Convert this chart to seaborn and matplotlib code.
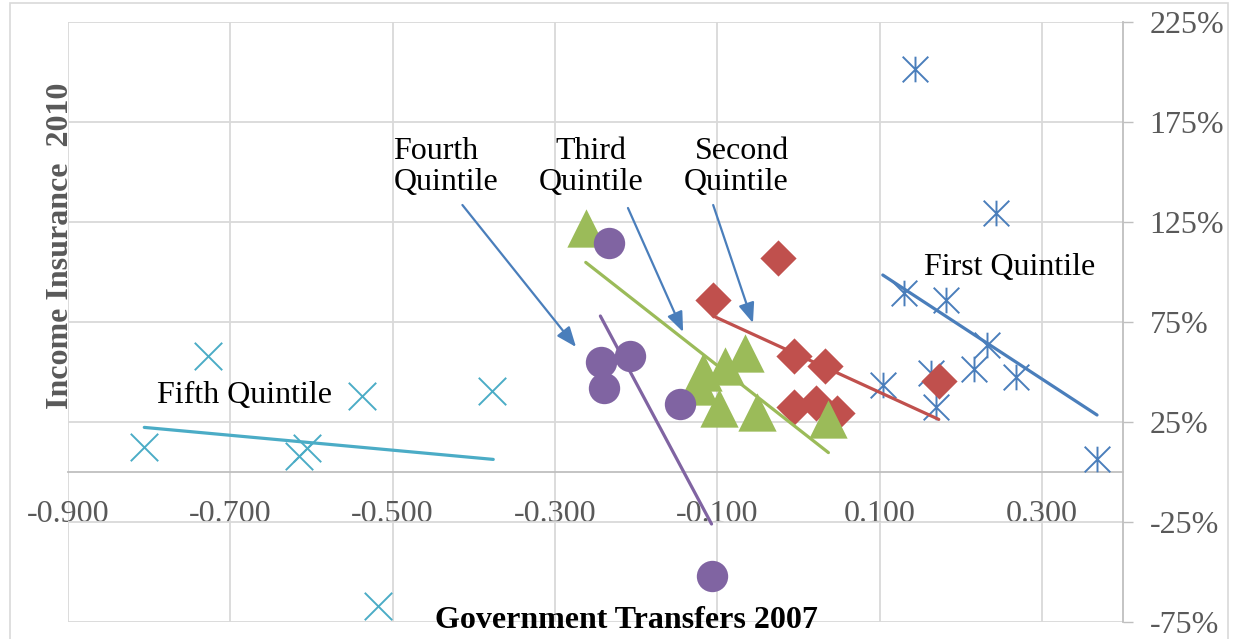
import matplotlib
matplotlib.use("Agg")
import matplotlib.pyplot as plt
import seaborn as sns
from matplotlib.path import Path
from matplotlib.patches import Rectangle
from matplotlib.ticker import FixedLocator, FuncFormatter

# x = government transfers 2007, y = income insurance 2010 (%)
first_x = [0.144, 0.244, 0.130, 0.182, 0.232, 0.217, 0.268, 0.104, 0.164, 0.170, 0.368]
first_y = [201.3, 129.7, 89.3, 86.0, 63.5, 51.3, 47.7, 43.5, 49.3, 32.7, 6.3]
second_x = [-0.025, -0.105, -0.005, 0.033, -0.005, 0.022, 0.047, 0.173]
second_y = [107.2, 86.0, 58.0, 53.0, 32.7, 34.3, 29.7, 45.7]
third_x = [-0.262, -0.118, -0.122, -0.090, -0.066, -0.098, -0.051, 0.037]
third_y = [122.0, 50.0, 43.0, 53.0, 59.7, 31.8, 30.0, 26.3]
fourth_x = [-0.233, -0.243, -0.208, -0.240, -0.146, -0.107]
fourth_y = [114.3, 54.8, 58.2, 42.2, 33.8, -52.0]
fifth_x = [-0.728, -0.538, -0.377, -0.806, -0.615, -0.605, -0.518]
fifth_y = [58.0, 38.2, 40.7, 12.7, 8.2, 11.8, -66.8]

# linear trend lines (end points)
first_trend_x = [0.104, 0.368]
first_trend_y = [98.5, 28.5]
second_trend_x = [-0.105, 0.173]
second_trend_y = [78.0, 26.3]
third_trend_x = [-0.262, 0.037]
third_trend_y = [104.8, 9.7]
fourth_trend_x = [-0.244, -0.107]
fourth_trend_y = [78.0, -26.0]
fifth_trend_x = [-0.806, -0.376]
fifth_trend_y = [22.3, 6.3]

x_ticks = [-0.9, -0.7, -0.5, -0.3, -0.1, 0.1, 0.3]
y_ticks = [-75, -25, 25, 75, 125, 175, 225]

GREY_TEXT = "#595959"
GRID = "#D9D9D9"
AXIS = "#BFBFBF"
ARROW = "#4A7EBB"
FS = 23

# Excel-like asterisk: vertical bar plus an X
STAR = Path([(0, -1), (0, 1), (-1, -1), (1, 1), (-1, 1), (1, -1)],
            [Path.MOVETO, Path.LINETO, Path.MOVETO, Path.LINETO, Path.MOVETO, Path.LINETO])


def draw_chart():
    sns.set_style("white")
    plt.rcParams["font.family"] = ["Liberation Serif", "DejaVu Serif"]
    plt.rcParams["text.color"] = "black"

    fig = plt.figure(figsize=(12.38, 6.39), dpi=100)
    ax = fig.add_axes([68 / 1238, 1 - 622 / 639, (1123 - 68) / 1238, 600 / 639])

    sns.scatterplot(x=first_x, y=first_y, marker=STAR, s=340, color="#4A7EBB",
                    edgecolor="#4A7EBB", linewidth=1.4, ax=ax, zorder=3)
    sns.scatterplot(x=second_x, y=second_y, marker="D", s=340, color="#C0504D",
                    edgecolor="#C0504D", linewidth=0, ax=ax, zorder=3)
    sns.scatterplot(x=third_x, y=third_y, marker="^", s=760, color="#9BBB59",
                    edgecolor="#9BBB59", linewidth=0, ax=ax, zorder=3)
    sns.scatterplot(x=fourth_x, y=fourth_y, marker="o", s=510, color="#8064A2",
                    edgecolor="#8064A2", linewidth=0, ax=ax, zorder=3)
    sns.scatterplot(x=fifth_x, y=fifth_y, marker="x", s=390, color="#4BACC6",
                    linewidth=1.4, ax=ax, zorder=3)

    trends = [(first_trend_x, first_trend_y, "#4A7EBB"),
              (second_trend_x, second_trend_y, "#C0504D"),
              (third_trend_x, third_trend_y, "#9BBB59"),
              (fourth_trend_x, fourth_trend_y, "#8064A2"),
              (fifth_trend_x, fifth_trend_y, "#4BACC6")]
    for tx, ty, c in trends:
        sns.lineplot(x=tx, y=ty, color=c, linewidth=2.3, sort=False, ax=ax, zorder=4)

    ax.set_xlim(-0.9, 0.4)
    ax.set_ylim(-75, 225)
    ax.xaxis.set_major_locator(FixedLocator(x_ticks))
    ax.yaxis.set_major_locator(FixedLocator(y_ticks))
    ax.xaxis.set_major_formatter(FuncFormatter(lambda v, p: f"{v:.3f}"))
    ax.yaxis.set_major_formatter(FuncFormatter(lambda v, p: f"{v:.0f}%"))
    ax.grid(True, color=GRID, linewidth=1.3)
    ax.set_axisbelow(True)

    ax.spines["top"].set_visible(False)
    ax.spines["left"].set_visible(False)
    ax.spines["bottom"].set_position(("data", 0))
    ax.spines["bottom"].set_color(AXIS)
    ax.spines["right"].set_color(AXIS)
    ax.spines["bottom"].set_linewidth(1.3)
    ax.spines["right"].set_linewidth(1.3)
    ax.yaxis.tick_right()
    ax.tick_params(axis="x", direction="out", length=7, width=1, color=AXIS,
                   labelsize=FS, labelcolor=GREY_TEXT, pad=13)
    ax.tick_params(axis="y", direction="out", length=7, width=1, color=AXIS,
                   labelsize=FS, labelcolor=GREY_TEXT, pad=12)

    # quintile labels and arrows
    ax.text(-0.499, 152.5, "Fourth\nQuintile", fontsize=FS, ha="left", va="center",
            color="black", linespacing=1.1)
    ax.text(-0.256, 152.5, "Third\nQuintile", fontsize=FS, ha="center", va="center",
            color="black", linespacing=1.1)
    ax.text(-0.012, 152.5, "Second\nQuintile", fontsize=FS, ha="right", va="center",
            multialignment="right", color="black", linespacing=1.1)
    ax.text(0.2605, 102.5, "First Quintile", fontsize=FS, ha="center", va="center", color="black")
    ax.text(-0.682, 38.0, "Fifth Quintile", fontsize=FS, ha="center", va="center", color="black")

    arrows = [((-0.414, 133.5), (-0.274, 62.5)),
              ((-0.210, 132.0), (-0.142, 70.0)),
              ((-0.105, 133.5), (-0.056, 74.5))]
    for start, end in arrows:
        ax.annotate("", xy=end, xytext=start,
                    arrowprops=dict(arrowstyle="-|>,head_length=0.55,head_width=0.22",
                                    color=ARROW, lw=1.6, mutation_scale=22,
                                    shrinkA=0, shrinkB=0), zorder=5)

    fig.text(61 / 1238, 1 - 246 / 639, "Income Insurance  2010", rotation=90, fontsize=FS,
             fontweight="bold", color=GREY_TEXT, ha="center", va="center")
    fig.text(626 / 1238, 1 - 620 / 639, "Government Transfers 2007", fontsize=FS,
             fontweight="bold", color="black", ha="center", va="center")

    fig.patches.append(Rectangle((10 / 1238, -0.05), 1218 / 1238, 1.05 - 3 / 639,
                                 transform=fig.transFigure, fill=False,
                                 edgecolor=GRID, linewidth=1.2))
    return fig


def main():
    fig = draw_chart()
    fig.savefig("out.png", dpi=100)


if __name__ == "__main__":
    main()
